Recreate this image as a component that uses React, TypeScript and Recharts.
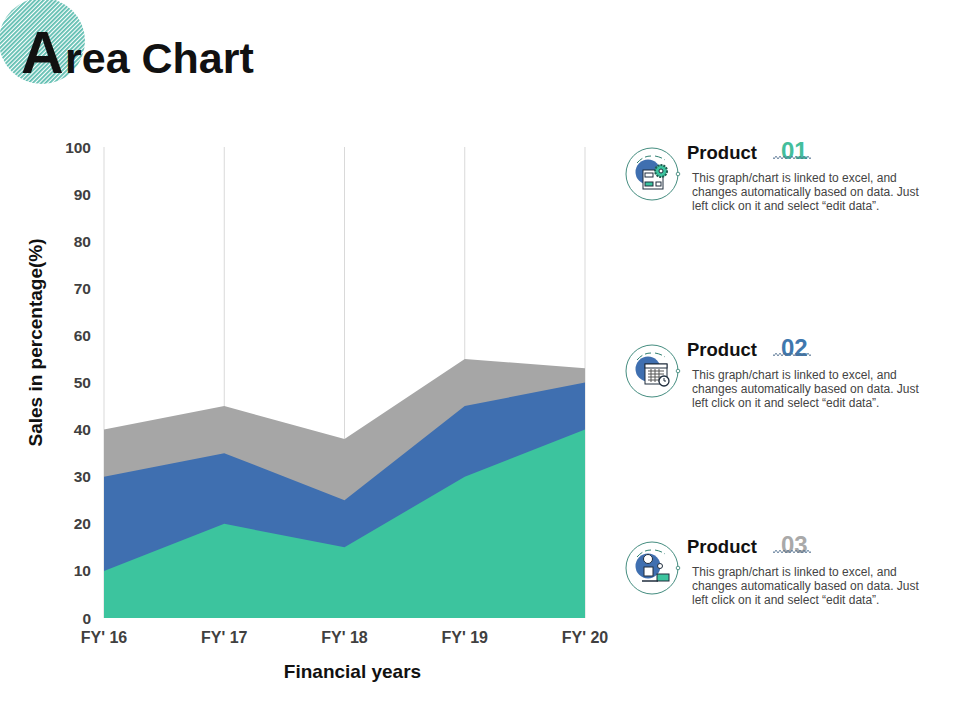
import React from "react";
import { AreaChart, Area, XAxis, YAxis, CartesianGrid } from "recharts";

const categories = ["FY' 16", "FY' 17", "FY' 18", "FY' 19", "FY' 20"];
const product01 = [10, 20, 15, 30, 40];
const product02 = [30, 35, 25, 45, 50];
const product03 = [40, 45, 38, 55, 53];
const yTicks = [0, 10, 20, 30, 40, 50, 60, 70, 80, 90, 100];
const rows = categories.map((c, i) => ({ c, p1: product01[i], p2: product02[i], p3: product03[i] }));

const GREEN = "#3CC49E";
const BLUE = "#3F6FB0";
const GRAY = "#A6A6A6";
const FONT = "'Liberation Sans', Arial, sans-serif";

const legendItems = [
  { num: "01", color: "#43BE9C", top: 0, kind: 0 },
  { num: "02", color: "#3F78AE", top: 197, kind: 1 },
  { num: "03", color: "#A9A9A9", top: 394, kind: 2 },
];
const legendLines = [
  "This graph/chart is linked to excel, and",
  "changes automatically based on data. Just",
  "left click on it and select \u201Cedit data\u201D.",
];

function Icon({ kind }: { kind: number }) {
  const ink = "#1F2D3D";
  if (kind === 0) {
    return (
      <g fill="none" stroke={ink} strokeWidth={1}>
        <rect x={643} y={170} width={20} height={19} fill="#fff" />
        <rect x={645} y={173} width={8} height={4} fill="#fff" />
        <rect x={645} y={182} width={8} height={4} fill={GREEN} />
        <rect x={656} y={182} width={5} height={4} fill="#fff" />
        <circle cx={661} cy={171} r={6} fill={GREEN} stroke="#1F5F50" strokeDasharray="2 1" strokeWidth={2} />
        <circle cx={661} cy={171} r={2} fill="#fff" />
      </g>
    );
  }
  if (kind === 1) {
    return (
      <g fill="none" stroke={ink} strokeWidth={1}>
        <rect x={645} y={167} width={22} height={20} fill="#fff" />
        <rect x={645} y={167} width={22} height={4} fill="#fff" />
        <path d="M648 174h16M648 177h16M648 180h16M648 183h16M651 172v13M655 172v13M659 172v13" stroke="#555" />
        <circle cx={664} cy={184} r={5} fill="#fff" strokeWidth={1.3} />
        <path d="M664 181v3h2" />
      </g>
    );
  }
  return (
    <g fill="none" stroke={ink} strokeWidth={1}>
      <circle cx={648} cy={165} r={4.5} fill="#fff" />
      <rect x={644} y={173} width={9} height={9} fill="#fff" />
      <circle cx={660} cy={172} r={2.5} fill="#fff" />
      <rect x={657} y={180} width={12} height={7} fill={GREEN} />
      <path d="M642 187h16" strokeWidth={1.5} />
    </g>
  );
}

export default function App() {
  return (
    <div style={{ position: "absolute", left: 0, top: 0, width: 960, height: 720, background: "#fff", overflow: "hidden" }}>
      <svg width={960} height={720} style={{ position: "absolute", left: 0, top: 0 }}>
        <defs>
          <pattern id="stripes" width={3} height={3} patternUnits="userSpaceOnUse" patternTransform="rotate(45)">
            <rect width={3} height={3} fill="#fff" />
            <rect width={1.8} height={3} fill="#5DBDB0" />
          </pattern>
          <pattern id="zig" width={4} height={3} patternUnits="userSpaceOnUse">
            <path d="M0 0L2 3L4 0" fill="none" stroke="#4C6C8C" strokeWidth={0.8} />
          </pattern>
        </defs>
        <circle cx={42} cy={41} r={43} fill="url(#stripes)" />
        <text x={21} y={73} fontFamily={FONT} fontWeight={700} fontSize={59} fill="#111">A</text>
        <text x={65} y={73} fontFamily={FONT} fontWeight={700} fontSize={43} fill="#111">rea Chart</text>
        {legendItems.map((it) => (
          <g key={it.num} transform={`translate(0 ${it.top})`}>
            <circle cx={652} cy={174} r={26} fill="none" stroke="#2F7F70" strokeWidth={0.9} />
            <path d="M637 163 Q643 156 651 156 M655 156 Q661 157 665 160" fill="none" stroke="#2F7F70" strokeWidth={1} strokeDasharray="7 3" />
            <circle cx={648} cy={172} r={12.5} fill={BLUE} />
            <circle cx={678} cy={174} r={1.8} fill="#fff" stroke="#2F7F70" strokeWidth={0.8} />
            <Icon kind={it.kind} />
            <text x={687} y={159} fontFamily={FONT} fontWeight={700} fontSize={18.5} fill="#111">Product</text>
            <text x={781} y={159} fontFamily={FONT} fontWeight={700} fontSize={24} fill={it.color}>{it.num}</text>
            <rect x={773} y={156} width={38} height={3} fill="url(#zig)" />
            {legendLines.map((t, i) => (
              <text key={i} x={692} y={182 + i * 14} fontFamily={FONT} fontSize={12} fill="#444">{t}</text>
            ))}
          </g>
        ))}
      </svg>
      <div style={{ position: "absolute", left: 0, top: 0 }}>
        <AreaChart width={960} height={720} data={rows} margin={{ top: 147, right: 375, bottom: 0, left: 0 }}>
          <CartesianGrid horizontal={false} stroke="#D9D9D9" />
          <XAxis
            dataKey="c"
            scale="point"
            padding={{ left: 0, right: 0 }}
            axisLine={false}
            tickLine={false}
            interval={0}
            height={102}
            tickMargin={8}
            tick={{ fill: "#404040", fontSize: 16, fontWeight: 700, fontFamily: FONT }}
            label={{ value: "Financial years", position: "insideTop", offset: 47, dx: 8, fill: "#111", fontSize: 19, fontWeight: 700, fontFamily: FONT }}
          />
          <YAxis
            type="number"
            domain={[0, 100]}
            ticks={yTicks}
            axisLine={false}
            tickLine={false}
            width={104}
            tickMargin={7}
            interval={0}
            tick={{ fill: "#404040", fontSize: 15.5, fontWeight: 700, fontFamily: FONT }}
            label={{ value: "Sales in percentage(%)", angle: -90, position: "insideLeft", offset: 35, dy: 64, fill: "#111", fontSize: 19, fontWeight: 700, fontFamily: FONT }}
          />
          <Area dataKey="p3" type="linear" fill={GRAY} fillOpacity={1} stroke="none" dot={false} activeDot={false} isAnimationActive={false} />
          <Area dataKey="p2" type="linear" fill={BLUE} fillOpacity={1} stroke="none" dot={false} activeDot={false} isAnimationActive={false} />
          <Area dataKey="p1" type="linear" fill={GREEN} fillOpacity={1} stroke="none" dot={false} activeDot={false} isAnimationActive={false} />
        </AreaChart>
      </div>
    </div>
  );
}
